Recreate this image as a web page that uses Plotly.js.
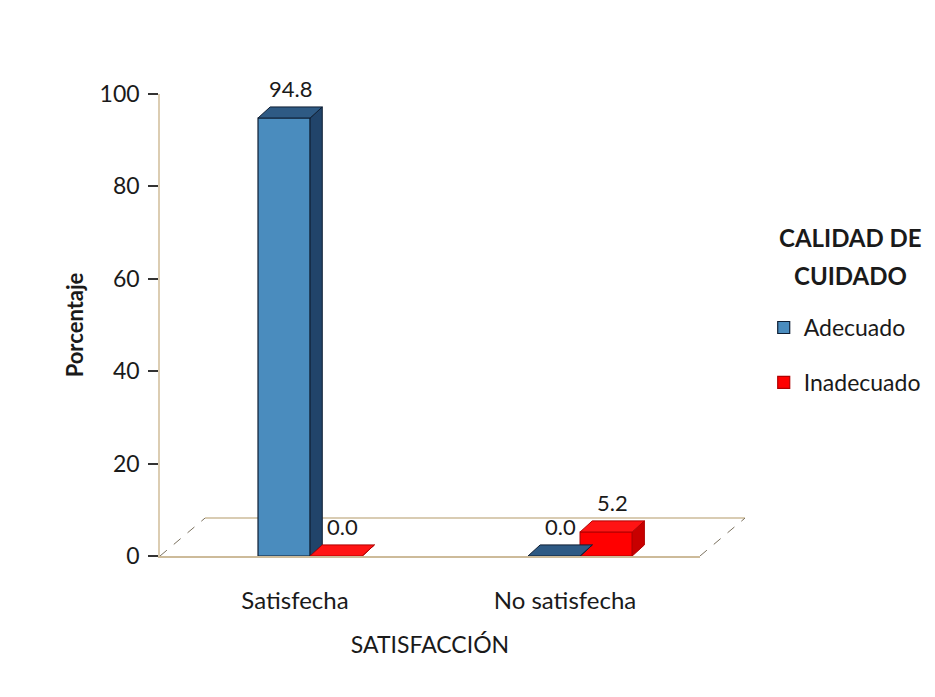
<!DOCTYPE html>
<html>
<head>
<meta charset="utf-8">
<script src="https://cdn.plot.ly/plotly-3.0.1.min.js"></script>
<style>html,body{margin:0;padding:0;background:#fff;}#chart{width:935px;height:697px;}</style>
</head>
<body>
<div id="chart"></div>
<script>
// ---- data ----
const categories = ["Satisfecha", "No satisfecha"];
const seriesNames = ["Adecuado", "Inadecuado"];
const adecuado = [94.8, 0.0];
const inadecuado = [0.0, 5.2];
const yTicks = [0, 20, 40, 60, 80, 100];
const legendTitle = ["CALIDAD DE", "CUIDADO"];

// ---- style ----
const FONT = "Lato, 'DejaVu Sans', sans-serif";
const TXT = "#1a1a1a";
const styles = [
  {front: "#4A8CBE", top: "#2E5A84", side: "#21446A", line: "#0E1E33"},
  {front: "#FF0000", top: "#FF1414", side: "#C80000", line: "#B00000"}
];
const series = [adecuado, inadecuado];
const xIdx = categories.map((c, i) => i);
const barW = 0.193;                 // width of one bar in category units
const offsets = [-0.137, 0.056];    // per-series offset from category centre
const depthX = 0.045;               // pseudo-3D depth (category units)
const depthY = 2.4;                 // pseudo-3D depth (y units)

const traces = series.map((vals, s) => ({
  type: "bar",
  name: seriesNames[s],
  legendgroup: "g" + s,
  x: xIdx,
  y: vals,
  width: barW,
  offset: offsets[s],
  marker: {color: styles[s].front, line: {color: styles[s].line, width: 1.2}},
  hoverinfo: "x+y"
}));

const shapes = [];
const annotations = [];

// floor (pseudo-3D base plane), x in paper units so it can extend past the plot
const fdx = 0.0833, fdy = 8.2;
shapes.push({type: "line", xref: "paper", yref: "y", layer: "below",
  x0: fdx, y0: fdy, x1: 1 + fdx, y1: fdy, line: {color: "#CDBB9A", width: 1.5}});
shapes.push({type: "line", xref: "paper", yref: "y", layer: "below",
  x0: 0, y0: 0, x1: fdx, y1: fdy, line: {color: "#7A705E", width: 1, dash: "dash"}});
shapes.push({type: "line", xref: "paper", yref: "y", layer: "below",
  x0: 1, y0: 0, x1: 1 + fdx, y1: fdy, line: {color: "#7A705E", width: 1, dash: "dash"}});

// 3D faces and value labels for each bar
series.forEach((vals, s) => {
  vals.forEach((v, i) => {
    const x0 = xIdx[i] + offsets[s];
    const x1 = x0 + barW;
    const st = styles[s];
    shapes.push({type: "path", xref: "x", yref: "y", layer: "above",
      path: `M ${x1},0 L ${x1 + depthX},${depthY} L ${x1 + depthX},${v + depthY} L ${x1},${v} Z`,
      fillcolor: st.side, line: {color: st.line, width: 1}});
    shapes.push({type: "path", xref: "x", yref: "y", layer: "above",
      path: `M ${x0},${v} L ${x0 + depthX},${v + depthY} L ${x1 + depthX},${v + depthY} L ${x1},${v} Z`,
      fillcolor: st.top, line: {color: st.line, width: 1}});
    annotations.push({
      xref: "x", yref: "y", x: (x0 + x1) / 2 + depthX / 2, y: v + depthY,
      text: v.toFixed(1), showarrow: false, yanchor: "bottom", yshift: 3,
      font: {family: FONT, size: 22, color: TXT}
    });
  });
});

// legend title (two centred lines)
legendTitle.forEach((t, k) => {
  annotations.push({xref: "paper", yref: "paper", x: 1.278, y: 0.69 - k * 0.083,
    text: "<b>" + t + "</b>", showarrow: false, xanchor: "center", yanchor: "middle",
    font: {family: FONT, size: 24, color: TXT}});
});

const layout = {
  width: 935, height: 697,
  paper_bgcolor: "#fff", plot_bgcolor: "#fff",
  margin: {l: 160, r: 235, t: 94, b: 141, autoexpand: false},
  barmode: "group",
  font: {family: FONT, color: TXT},
  showlegend: true,
  legend: {
    x: 1.118, y: 0.541, xanchor: "left", yanchor: "top",
    font: {family: FONT, size: 23, color: TXT},
    tracegroupgap: 22, bgcolor: "rgba(0,0,0,0)"
  },
  xaxis: {
    range: [-0.5, 1.5], tickvals: xIdx, ticktext: categories,
    showgrid: false, zeroline: false, showline: true, linecolor: "#CDBB9A", linewidth: 1.5,
    ticks: "", ticklabelstandoff: 22,
    tickfont: {family: FONT, size: 24, color: TXT},
    title: {text: "SATISFACCIÓN", standoff: 24, font: {family: FONT, size: 23, color: TXT}}
  },
  yaxis: {
    range: [0, 100], tickvals: yTicks, ticktext: yTicks.map(String),
    showgrid: false, zeroline: false, showline: true, linecolor: "#DCCDB2", linewidth: 1.5,
    ticks: "outside", ticklen: 10, tickcolor: "#333", tickwidth: 1.5, ticklabelstandoff: 4,
    tickfont: {family: FONT, size: 23, color: TXT},
    title: {text: "<b>Porcentaje</b>", standoff: 10, font: {family: FONT, size: 22, color: TXT}}
  },
  shapes: shapes,
  annotations: annotations
};

Plotly.newPlot("chart", traces, layout, {displayModeBar: false});
</script>
</body>
</html>
